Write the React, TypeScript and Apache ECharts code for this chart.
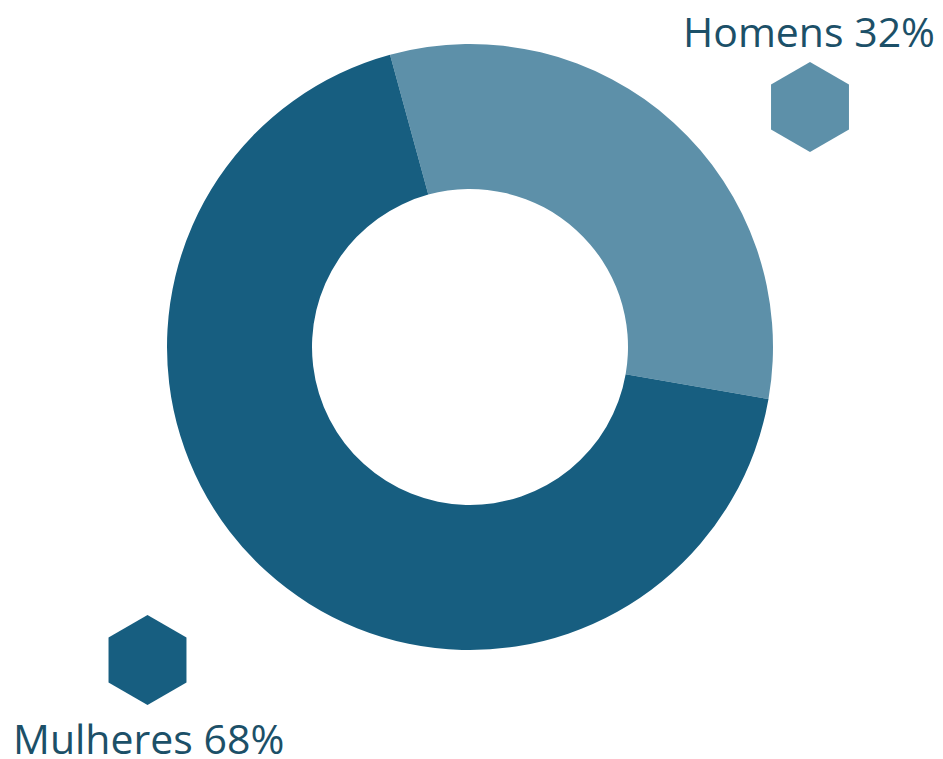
import React, { useEffect, useRef } from "react";
import * as echarts from "echarts";

const categories = ["Homens", "Mulheres"];
const values = [32, 68];
const colors = ["#5d90a9", "#175e80"];
const textColor = "#1c5068";

function hexPoints(cx: number, cy: number, r: number): number[][] {
  const pts: number[][] = [];
  for (let i = 0; i < 6; i++) {
    const a = (Math.PI / 3) * i - Math.PI / 2;
    pts.push([cx + r * Math.cos(a), cy + r * Math.sin(a)]);
  }
  return pts;
}

export default function App() {
  const ref = useRef<HTMLDivElement>(null);
  useEffect(() => {
    document.body.style.margin = "0";
    document.body.style.overflow = "hidden";
    if (!ref.current) return;
    const chart = echarts.init(ref.current, null, { renderer: "svg" });
    const font = "'Open Sans', 'DejaVu Sans', sans-serif";
    chart.setOption({
      animation: false,
      backgroundColor: "#ffffff",
      series: [
        {
          type: "pie",
          center: [470, 347],
          radius: [158, 303],
          startAngle: 105.3,
          clockwise: true,
          label: { show: false },
          labelLine: { show: false },
          emphasis: { disabled: true },
          itemStyle: { borderWidth: 0 },
          data: categories.map((c, i) => ({
            name: c,
            value: values[i],
            itemStyle: { color: colors[i] },
          })),
        },
      ],
      graphic: [
        {
          type: "polygon",
          shape: { points: hexPoints(810, 107, 45) },
          style: { fill: colors[0] },
        },
        {
          type: "polygon",
          shape: { points: hexPoints(147.5, 660, 45) },
          style: { fill: colors[1] },
        },
        {
          type: "text",
          x: 935,
          y: 51,
          style: {
            text: `${categories[0]} ${values[0]}%`,
            fill: textColor,
            font: `41px ${font}`,
            textAlign: "right",
            textVerticalAlign: "bottom",
          },
        },
        {
          type: "text",
          x: 13,
          y: 758,
          style: {
            text: `${categories[1]} ${values[1]}%`,
            fill: textColor,
            font: `41px ${font}`,
            textAlign: "left",
            textVerticalAlign: "bottom",
          },
        },
      ],
    });
    return () => chart.dispose();
  }, []);
  return <div ref={ref} style={{ width: 943, height: 759, display: "block" }} />;
}
